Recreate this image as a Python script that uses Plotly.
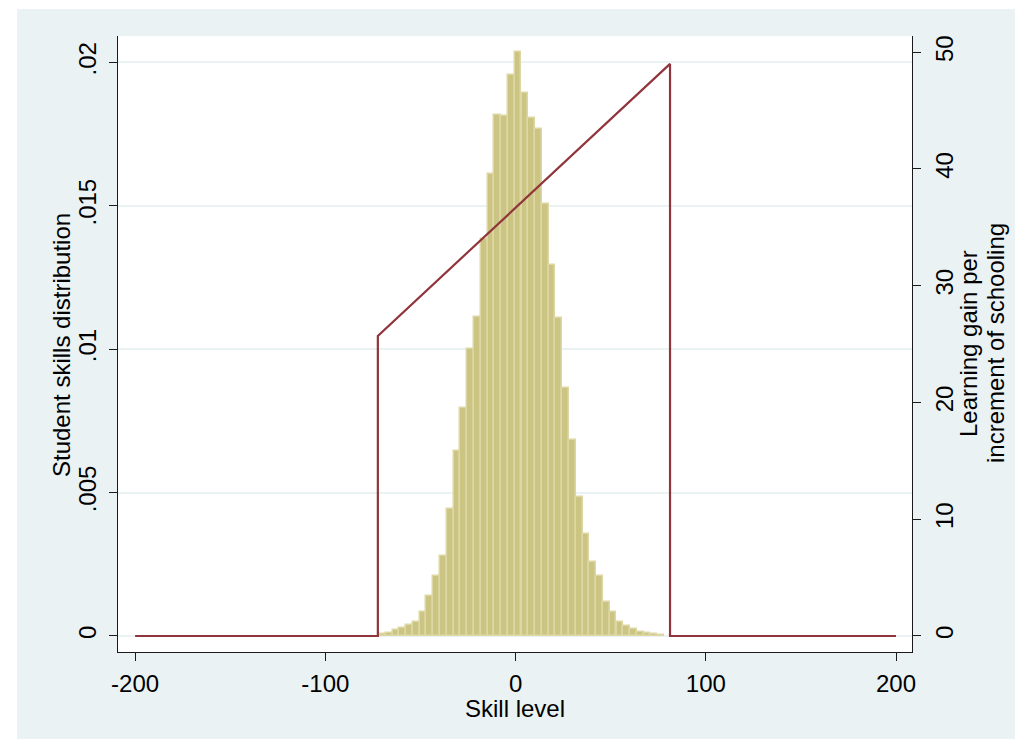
import plotly.graph_objects as go

# ---- data ----
bin_centers = [-70.02, -66.45, -62.88, -59.31, -55.75, -52.18, -48.61, -45.05,
               -41.48, -37.91, -34.34, -30.78, -27.21, -23.64, -20.07, -16.51,
               -12.94, -9.37, -5.81, -2.24, 1.33, 4.90, 8.46, 12.03, 15.60,
               19.16, 22.73, 26.30, 29.87, 33.43, 37.00, 40.57, 44.14, 47.70,
               51.27, 54.84, 58.41, 61.97, 65.54, 69.11, 72.68, 76.24]
bin_width = 3.567
density = [0.00006, 0.00010, 0.00020, 0.00029, 0.00038, 0.00049, 0.00083,
           0.00138, 0.00208, 0.00278, 0.00444, 0.00645, 0.00794, 0.01002,
           0.01113, 0.01384, 0.01612, 0.01816, 0.01813, 0.01956, 0.02035,
           0.01894, 0.01807, 0.01766, 0.01505, 0.01293, 0.01107, 0.00866,
           0.00685, 0.00485, 0.00357, 0.00258, 0.00209, 0.00119, 0.00084,
           0.00049, 0.00035, 0.00023, 0.00014, 0.00012, 0.00006, 0.00005]

gain_x = [-200, -72.4, -72.4, 81.2, 81.2, 200]
gain_y = [0, 0, 25.7, 49.0, 0, 0]

x_ticks = [-200, -100, 0, 100, 200]
x_ticktext = ["-200", "-100", "0", "100", "200"]
y_ticks = [0, 0.005, 0.01, 0.015, 0.02]
y_ticktext = ["0", ".005", ".01", ".015", ".02"]
y2_ticks = [0, 10, 20, 30, 40, 50]
y2_ticktext = ["0", "10", "20", "30", "40", "50"]

FONT = "Liberation Sans, Arial, sans-serif"
BG = "#EAF2F3"
AX = "#1a1a1a"

fig = go.Figure()
fig.add_trace(go.Bar(
    x=bin_centers, y=density, width=bin_width,
    marker=dict(color="rgb(203,196,130)",
                line=dict(color="rgb(220,215,163)", width=1.5)),
    yaxis="y", showlegend=False, hoverinfo="x+y",
))
fig.add_trace(go.Scatter(
    x=gain_x, y=gain_y, mode="lines",
    line=dict(color="#90353B", width=2.2),
    yaxis="y2", showlegend=False,
))

fig.update_layout(
    width=1007, height=731, autosize=False,
    margin=dict(l=110, r=103, t=28, b=87),
    paper_bgcolor="white", plot_bgcolor="white",
    font=dict(family=FONT, size=24, color="black"),
    bargap=0,
    xaxis=dict(range=[-209, 208.4], tickmode="array", tickvals=x_ticks,
               ticktext=x_ticktext, showline=True, linecolor=AX, linewidth=1,
               ticks="outside", ticklen=8, tickwidth=1, tickcolor=AX,
               showgrid=False, zeroline=False, ticklabelstandoff=2,
               tickfont=dict(size=24)),
    yaxis=dict(range=[-0.000558, 0.020917], tickmode="array", tickvals=y_ticks,
               ticktext=y_ticktext, tickangle=-90, showline=True,
               linecolor=AX, linewidth=1, ticks="outside", ticklen=8,
               tickwidth=1, tickcolor=AX, showgrid=True, gridcolor=BG,
               gridwidth=2, zeroline=False, ticklabelstandoff=3,
               tickfont=dict(size=24)),
    yaxis2=dict(range=[-1.371, 51.39], overlaying="y", side="right",
                tickmode="array", tickvals=y2_ticks, ticktext=y2_ticktext,
                tickangle=-90, showline=True, linecolor=AX, linewidth=1,
                ticks="outside", ticklen=8, tickwidth=1, tickcolor=AX,
                showgrid=False, zeroline=False, ticklabelstandoff=3,
                tickfont=dict(size=24)),
    shapes=[
        dict(type="rect", xref="paper", yref="paper", layer="below",
             x0=-0.1272, x1=1.2, y0=-0.2, y1=1.0438,
             fillcolor=BG, line=dict(width=0)),
        dict(type="rect", xref="paper", yref="paper", layer="below",
             x0=0, x1=1, y0=0, y1=1, fillcolor="white", line=dict(width=0)),
    ],
    annotations=[
        dict(text="Skill level", xref="paper", yref="paper", x=0.5, y=-0.0925,
             xanchor="center", yanchor="middle", showarrow=False,
             font=dict(size=24)),
        dict(text="Student skills distribution", xref="paper", yref="paper",
             x=-0.0705, y=0.4984, xanchor="center", yanchor="middle",
             textangle=-90, showarrow=False, font=dict(size=24)),
        dict(text="Learning gain per", xref="paper",
             yref="paper", x=1.0705, y=0.5016, xanchor="center",
             yanchor="middle", textangle=-90, showarrow=False,
             font=dict(size=24)),
        dict(text="increment of schooling", xref="paper",
             yref="paper", x=1.1045, y=0.5016, xanchor="center",
             yanchor="middle", textangle=-90, showarrow=False,
             font=dict(size=24)),
    ],
)

fig.write_html("out.html")
